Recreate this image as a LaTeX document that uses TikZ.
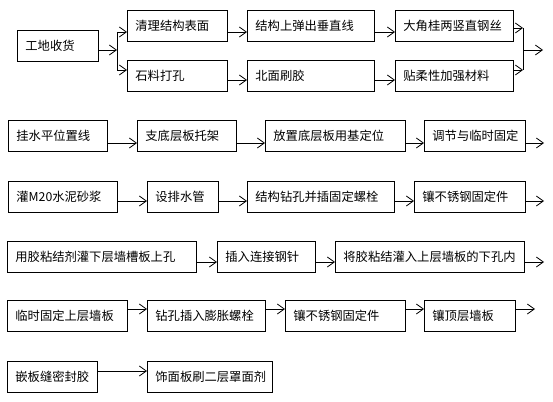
\documentclass[tikz,border=0pt]{standalone}
\usepackage{fontspec}
\setmainfont{Noto Sans CJK SC}
\usetikzlibrary{arrows.meta}

\begin{document}
\begin{tikzpicture}[x=1pt,y=-1pt,
    box/.style={draw, line width=0.8pt, anchor=west, minimum height=31pt,
      inner xsep=8pt, inner ysep=0pt, align=left,
      font=\fontsize{12.3}{14}\selectfont},
    flow/.style={line width=0.8pt, -{Straight Barb[length=7pt,width=10pt]}}]
  \useasboundingbox (0,0) rectangle (553,401);

  % row 1
  \node[box, text width=65pt] (shouhuo) at (17,45.5) {工地收货};
  \node[box, text width=84pt] (qingli) at (127,25.5) {清理结构表面};
  \node[box, text width=84pt] (dakong) at (127,75.5) {石料打孔};
  \node[box, text width=111pt] (tanxian) at (247,25.5) {结构上弹出垂直线};
  \node[box, text width=111pt] (shuajiao) at (247,75.5) {北面刷胶};
  \node[box, text width=102pt] (gangsi) at (395,25.5) {大角桂两竖直钢丝};
  \node[box, text width=102pt] (tiecai) at (395,75.5) {贴柔性加强材料};
  \coordinate (fenM) at (117,50);
  \coordinate (fenT) at (117,32);
  \coordinate (fenB) at (117,70);
  \coordinate (heT) at (523,28);
  \coordinate (heB) at (523,70);
  \coordinate (heM) at (523,50);
  \coordinate (heEnd) at (543,50);
  \draw[flow] (shouhuo.east |- fenM) -- (fenM);
  \draw[line width=0.8pt] (fenT) -- (fenB);
  \draw[flow] (fenT) -- (qingli.west |- fenT);
  \draw[flow] (fenB) -- (dakong.west |- fenB);
  \draw[flow] (qingli.east |- fenT) -- (tanxian.west |- fenT);
  \draw[flow] (tanxian.east |- fenT) -- (gangsi.west |- fenT);
  \draw[flow] ([yshift=-4.5pt]dakong.east) -- ([yshift=-4.5pt]shuajiao.west);
  \draw[flow] ([yshift=-4.5pt]shuajiao.east) -- ([yshift=-4.5pt]tiecai.west);
  \draw[flow] (gangsi.east |- heT) -- (heT);
  \draw[flow] (tiecai.east |- heB) -- (heB);
  \draw[line width=0.8pt] (heT) -- (heB);
  \draw[flow] (heM) -- (heEnd);

  % row 2
  \node[box, text width=83pt] (guaxian) at (8,135.5) {挂水平位置线};
  \node[box, text width=83pt] (tuojia) at (137,135.5) {支底层板托架};
  \node[box, text width=124pt] (dingwei) at (265,135.5) {放置底层板用基定位};
  \node[box, text width=85pt] (tiaojie) at (424,135.5) {调节与临时固定};
  \coordinate (end2) at (544,143);
  \foreach \a/\b in {guaxian/tuojia, tuojia/dingwei, dingwei/tiaojie}
    \draw[flow] ([yshift=-7.5pt]\a.east) -- ([yshift=-7.5pt]\b.west);
  \draw[flow] (tiaojie.east |- end2) -- (end2);

  % row 3
  \node[box, text width=93pt] (guanjiang) at (8,197) {灌M20水泥砂浆};
  \node[box, text width=55pt] (paishui) at (147,197) {设排水管};
  \node[box, text width=131pt] (zuankong) at (247,197) {结构钻孔并插固定螺栓};
  \node[box, text width=95pt] (xiangjian) at (414,197) {镶不锈钢固定件};
  \coordinate (end3) at (544,201);
  \foreach \a/\b in {guanjiang/paishui, paishui/zuankong, zuankong/xiangjian}
    \draw[flow] ([yshift=-4pt]\a.east) -- ([yshift=-4pt]\b.west);
  \draw[flow] (xiangjian.east |- end3) -- (end3);

  % row 4
  \node[box, text width=173pt] (guanjiao) at (7,256.5) {用胶粘结剂灌下层墙槽板上孔};
  \node[box, text width=82pt] (chazhen) at (217,256.5) {插入连接钢针};
  \node[box, text width=173pt] (guanru) at (335,256.5) {将胶粘结灌入上层墙板的下孔内};
  \coordinate (end4) at (544,262);
  \foreach \a/\b in {guanjiao/chazhen, chazhen/guanru}
    \draw[flow] ([yshift=-5.5pt]\a.east) -- ([yshift=-5.5pt]\b.west);
  \draw[flow] (guanru.east |- end4) -- (end4);

  % row 5
  \node[box, text width=104pt] (linshi) at (7,315.5) {临时固定上层墙板};
  \node[box, text width=102pt] (pengzhang) at (147,315.5) {钻孔插入膨胀螺栓};
  \node[box, text width=104pt] (xiangjianb) at (285,315.5) {镶不锈钢固定件};
  \node[box, text width=75pt] (dingban) at (424,315.5) {镶顶层墙板};
  \coordinate (end5) at (535,309);
  \foreach \a/\b in {linshi/pengzhang, pengzhang/xiangjianb, xiangjianb/dingban}
    \draw[flow] ([yshift=6.5pt]\a.east) -- ([yshift=6.5pt]\b.west);
  \draw[flow] (dingban.east |- end5) -- (end5);

  % row 6
  \node[box, text width=74pt] (fengjiao) at (7,376.5) {嵌板缝密封胶};
  \node[box, text width=109pt] (shuaji) at (147,376.5) {饰面板刷二层罩面剂};
  \draw[flow] ([yshift=5.5pt]fengjiao.east) -- ([yshift=5.5pt]shuaji.west);
\end{tikzpicture}
\end{document}
